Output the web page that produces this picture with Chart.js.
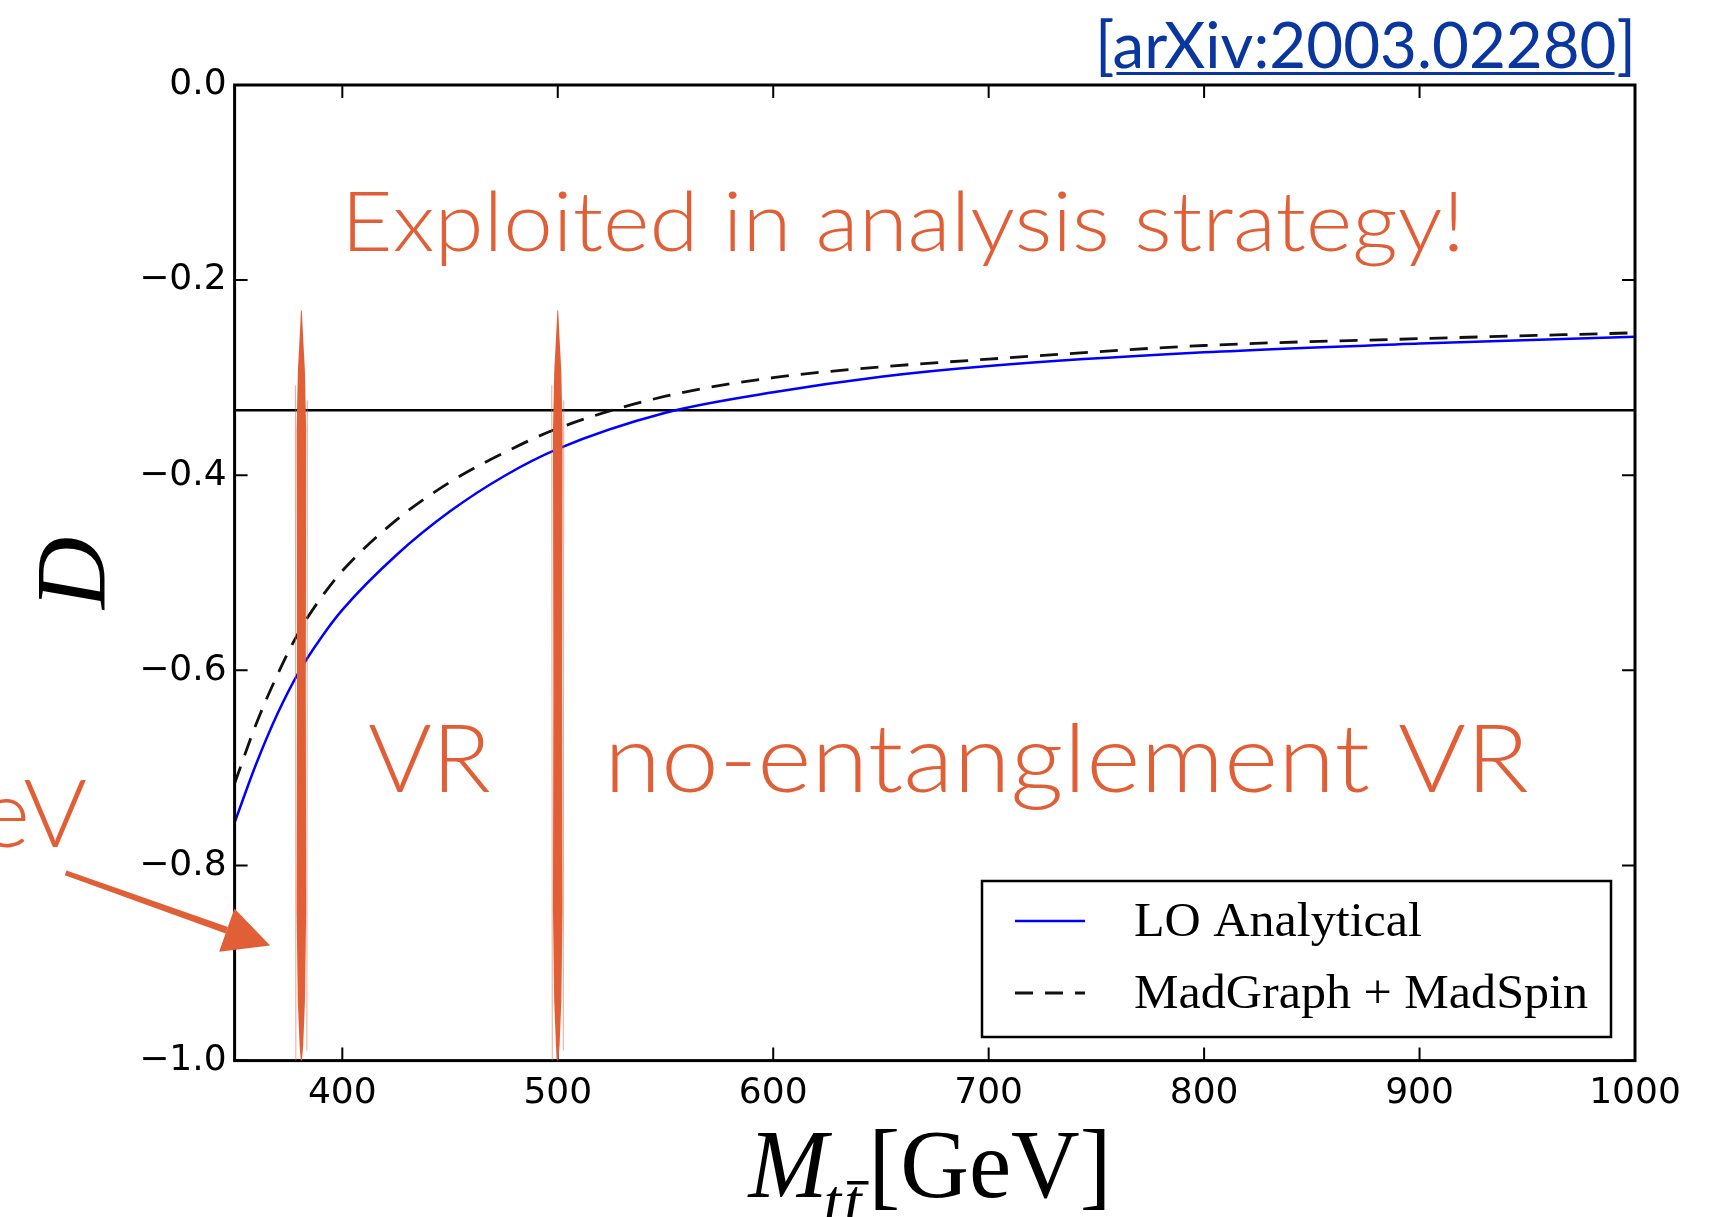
<!DOCTYPE html>
<html>
<head>
<meta charset="utf-8">
<script src="https://cdn.jsdelivr.net/npm/chart.js@4.4.1/dist/chart.umd.min.js"></script>
<style>
  html, body { margin: 0; padding: 0; background: #fff; }
  #wrap { width: 1727px; height: 1217px; position: relative; }
</style>
</head>
<body>
<div id="wrap"><canvas id="entChart"></canvas></div>
<script>
// values
const massValues   = [350, 360, 370, 380, 390, 400, 425, 450, 475, 500, 550, 600, 650, 700, 800, 900, 1000];
const loAnalytical = [-0.756, -0.696, -0.644, -0.601, -0.567, -0.538, -0.482, -0.437, -0.401, -0.373, -0.336, -0.315, -0.299, -0.288, -0.274, -0.265, -0.258];
const madGraphSpin = [-0.716, -0.655, -0.604, -0.560, -0.526, -0.498, -0.446, -0.407, -0.377, -0.352, -0.319, -0.300, -0.289, -0.281, -0.267, -0.260, -0.254];
const limitMass    = [350, 1000];
const limitValues  = [-1 / 3, -1 / 3];
const regionEdges  = [381, 500];     // hand drawn orange cuts
const regionTop    = -0.231;
const xTicks = [400, 500, 600, 700, 800, 900, 1000];
const yTicks = [-1.0, -0.8, -0.6, -0.4, -0.2, 0.0];
const seriesNames = ['LO Analytical', 'MadGraph + MadSpin'];

const ORANGE = '#e15f37';
const TEXT_FONT = 'Lato, "Open Sans", sans-serif';
const SERIF = '"Liberation Serif", "DejaVu Serif", serif';

function pts(xs, ys) { return xs.map((m, i) => ({ x: m, y: ys[i] })); }

// draw text at given cap height, squeezed to a given width
function fitText(ctx, text, weight, capH, width, x, y, align) {
  ctx.font = weight + ' 100px ' + TEXT_FONT;
  const capRatio = ctx.measureText('H').actualBoundingBoxAscent / 100;
  const size = capH / capRatio;
  ctx.font = weight + ' ' + size + 'px ' + TEXT_FONT;
  const w = ctx.measureText(text).width;
  const sx = width ? width / w : 1;
  ctx.save();
  ctx.translate(x, y);
  ctx.scale(sx, 1);
  ctx.textBaseline = 'alphabetic';
  ctx.textAlign = 'left';
  ctx.fillText(text, align === 'right' ? -w : 0, 0);
  ctx.restore();
  return { size: size, sx: sx, w: w };
}

const overlay = {
  id: 'overlay',
  afterDraw(chart) {
    const ctx = chart.ctx;
    const a = chart.chartArea;
    const x = chart.scales.x, y = chart.scales.y;
    ctx.save();

    // inward ticks and frame
    ctx.strokeStyle = '#000';
    ctx.lineWidth = 2;
    const tl = 13;
    ctx.beginPath();
    x.ticks.forEach(t => {
      const px = x.getPixelForValue(t.value);
      ctx.moveTo(px, a.bottom); ctx.lineTo(px, a.bottom - tl);
      ctx.moveTo(px, a.top); ctx.lineTo(px, a.top + tl);
    });
    y.ticks.forEach(t => {
      const py = y.getPixelForValue(t.value);
      ctx.moveTo(a.left, py); ctx.lineTo(a.left + tl, py);
      ctx.moveTo(a.right, py); ctx.lineTo(a.right - tl, py);
    });
    ctx.stroke();
    ctx.lineWidth = 3;
    ctx.strokeRect(a.left, a.top, a.right - a.left, a.bottom - a.top);

    // axis titles
    ctx.fillStyle = '#000';
    ctx.save();
    ctx.translate(104, (a.top + a.bottom) / 2);
    ctx.rotate(-Math.PI / 2);
    ctx.font = 'italic 100px ' + SERIF;
    ctx.textAlign = 'center';
    ctx.textBaseline = 'alphabetic';
    ctx.fillText('D', 0, 0);
    ctx.restore();

    const bigF = '97px ' + SERIF, itBig = 'italic 97px ' + SERIF, itSub = 'italic 64px ' + SERIF;
    ctx.font = itBig; const wM = ctx.measureText('M').width;
    ctx.font = itSub; const wt = ctx.measureText('t').width;
    ctx.font = bigF; const wG = ctx.measureText('[GeV]').width;
    const natural = wM + 2 * wt + 6 + wG;
    const sxl = 363 / natural;
    ctx.save();
    ctx.translate(930 - 363 / 2, 1197);
    ctx.scale(sxl, 1);
    ctx.textAlign = 'left';
    ctx.font = itBig; ctx.fillText('M', 0, 0);
    ctx.font = itSub;
    ctx.fillText('t', wM - 4, 26);
    ctx.fillText('t', wM - 4 + wt + 3, 26);
    ctx.fillRect(wM + wt + 2, -16, wt + 4, 3.5);
    ctx.font = bigF; ctx.fillText('[GeV]', wM + 2 * wt + 6, 0);
    ctx.restore();

    // orange hand-drawn cuts
    ctx.fillStyle = ORANGE;
    const prof = [[0, 0.4], [0.03, 1.5], [0.08, 3.5], [0.16, 4.8], [0.5, 4.4], [0.8, 4.8], [0.92, 3.6], [0.98, 1.8], [1, 0.6]];
    regionEdges.forEach(v => {
      const px = x.getPixelForValue(v);
      const top = y.getPixelForValue(regionTop);
      const bot = y.getPixelForValue(-1.0);
      ctx.beginPath();
      prof.forEach(p => ctx.lineTo(px + p[1], top + p[0] * (bot - top)));
      for (let i = prof.length - 1; i >= 0; i--) ctx.lineTo(px - prof[i][1], top + prof[i][0] * (bot - top));
      ctx.closePath();
      ctx.fill();
      // brush streaks
      ctx.strokeStyle = 'rgba(225,95,55,0.55)';
      ctx.lineWidth = 1;
      ctx.beginPath();
      ctx.moveTo(px - 6, top + 0.1 * (bot - top)); ctx.lineTo(px - 5.5, bot);
      ctx.moveTo(px + 6, top + 0.12 * (bot - top)); ctx.lineTo(px + 5.5, bot - 10);
      ctx.stroke();
    });

    // arrow pointing at threshold
    const tail = { x: x.getPixelForValue(271.5), y: y.getPixelForValue(-0.808) };
    const tip  = { x: x.getPixelForValue(366.5), y: y.getPixelForValue(-0.882) };
    const dx = tip.x - tail.x, dy = tip.y - tail.y, L = Math.hypot(dx, dy);
    const ux = dx / L, uy = dy / L, nx = -uy, ny = ux;
    const hb = { x: tip.x - 46 * ux, y: tip.y - 46 * uy };
    ctx.beginPath();
    ctx.moveTo(tail.x + nx * 2, tail.y + ny * 2);
    ctx.lineTo(hb.x + nx * 3.5, hb.y + ny * 3.5);
    ctx.lineTo(hb.x - nx * 3.5, hb.y - ny * 3.5);
    ctx.lineTo(tail.x - nx * 3, tail.y - ny * 3);
    ctx.closePath();
    ctx.fill();
    ctx.beginPath();
    ctx.moveTo(tip.x, tip.y);
    ctx.lineTo(hb.x + nx * 23, hb.y + ny * 23);
    ctx.lineTo(hb.x - nx * 23, hb.y - ny * 23);
    ctx.closePath();
    ctx.fill();

    // annotation texts
    fitText(ctx, 'Exploited in analysis strategy!', '300', 59, 1124, 341, 251);
    const vr = fitText(ctx, 'VR', '300', 68, 123, 368, 792);
    fitText(ctx, 'no-entanglement VR', '300', 68, 925, 604, 792);
    ctx.save();
    ctx.font = '300 ' + vr.size + 'px ' + TEXT_FONT;
    ctx.translate(87, 847);
    ctx.scale(vr.sx, 1);
    ctx.textAlign = 'right';
    ctx.fillText('eV', 0, 0);
    ctx.restore();

    // reference tag
    ctx.fillStyle = '#0a36a0';
    const tag = '[arXiv:2003.02280]';
    const r = fitText(ctx, tag, '400', 47, 541, 1095, 68);
    ctx.font = '400 ' + r.size + 'px ' + TEXT_FONT;
    const wb = ctx.measureText('[').width * r.sx;
    ctx.fillRect(1095 + wb + 2, 72, 541 - 2 * wb - 4, 3);

    // legend box
    const lx = 982, ly = 881, lw = 629, lh = 156;
    ctx.fillStyle = '#fff';
    ctx.fillRect(lx, ly, lw, lh);
    ctx.strokeStyle = '#000';
    ctx.lineWidth = 2.5;
    ctx.strokeRect(lx, ly, lw, lh);
    const rows = [921, 993];
    const labelWidths = [288, 454];
    chart.data.datasets.slice(0, 2).forEach((ds, i) => {
      ctx.strokeStyle = ds.borderColor;
      ctx.lineWidth = ds.borderWidth;
      ctx.setLineDash(ds.borderDash || []);
      ctx.beginPath();
      ctx.moveTo(1015, rows[i]);
      ctx.lineTo(1085, rows[i]);
      ctx.stroke();
      ctx.setLineDash([]);
      ctx.fillStyle = '#000';
      ctx.font = '48px ' + SERIF;
      ctx.textAlign = 'left';
      const w = ctx.measureText(ds.label).width;
      ctx.save();
      ctx.translate(1134, rows[i] + 15);
      ctx.scale(labelWidths[i] / w, 1);
      ctx.fillText(ds.label, 0, 0);
      ctx.restore();
    });

    ctx.restore();
  }
};

new Chart(document.getElementById('entChart'), {
  type: 'line',
  data: {
    datasets: [
      { label: seriesNames[0], data: pts(massValues, loAnalytical), borderColor: '#0000ff', borderWidth: 2.5,
        pointRadius: 0, cubicInterpolationMode: 'monotone', fill: false },
      { label: seriesNames[1], data: pts(massValues, madGraphSpin), borderColor: '#111111', borderWidth: 2.8,
        borderDash: [18, 12], pointRadius: 0, cubicInterpolationMode: 'monotone', fill: false },
      { label: 'D = -1/3', data: pts(limitMass, limitValues), borderColor: '#000', borderWidth: 2.5,
        pointRadius: 0, fill: false }
    ]
  },
  options: {
    responsive: true,
    maintainAspectRatio: false,
    animation: false,
    layout: { padding: { top: 85, right: 92, left: 0, bottom: 0 } },
    plugins: { legend: { display: false }, tooltip: { enabled: false } },
    scales: {
      x: {
        type: 'linear', min: 350, max: 1000,
        grid: { display: false, drawTicks: false }, border: { display: false },
        afterBuildTicks: s => { s.ticks = xTicks.map(v => ({ value: v })); },
        afterFit: s => { s.height = 156.4; },
        ticks: { color: '#000', font: { family: 'DejaVu Sans', size: 36 }, padding: 11,
                 maxRotation: 0, autoSkip: false, callback: v => String(v) }
      },
      y: {
        min: -1, max: 0,
        grid: { display: false, drawTicks: false }, border: { display: false },
        afterBuildTicks: s => { s.ticks = yTicks.map(v => ({ value: v })); },
        afterFit: s => { s.width = 234.6; },
        ticks: { color: '#000', font: { family: 'DejaVu Sans', size: 36 }, padding: 8, autoSkip: false,
                 callback: v => (v < 0 ? '\u2212' : '') + Math.abs(v).toFixed(1) }
      }
    }
  },
  plugins: [overlay]
});
</script>
</body>
</html>
